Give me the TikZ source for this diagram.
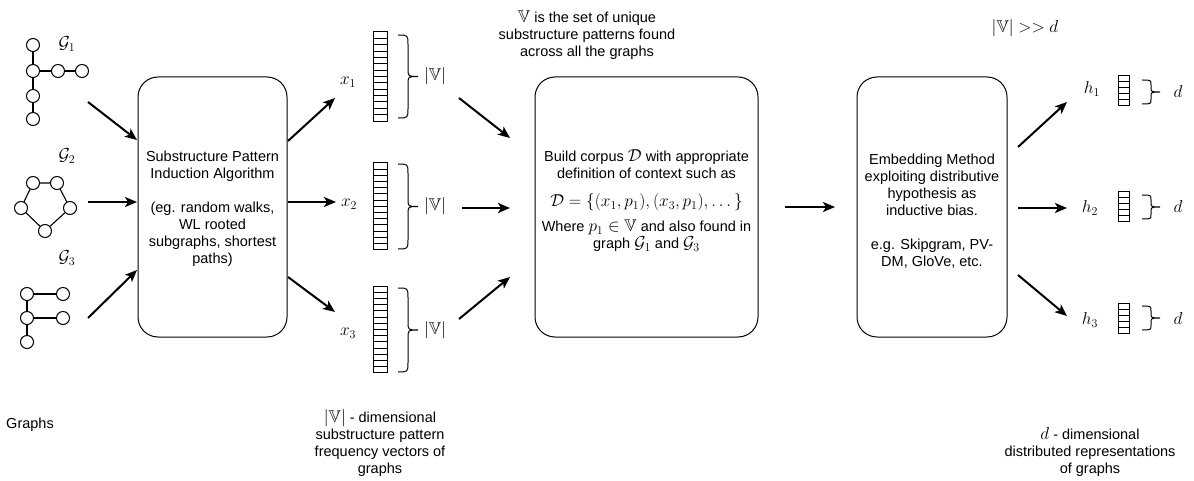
\documentclass[tikz,border=0pt]{standalone}
\usepackage{amsmath,amssymb}
\usepackage[no-math]{fontspec}
\setmainfont{Liberation Sans}
\usetikzlibrary{arrows.meta}
\newcommand\mybrace[3]{% x0, ytop, ybottom
  \draw[bracestyle] (#1,#2) .. controls ({#1+10},#2) .. ({#1+10},{#2+10})
    -- ({#1+10},{(#2+#3)/2-8}) .. controls ({#1+10},{(#2+#3)/2}) .. ({#1+20},{(#2+#3)/2})
    .. controls ({#1+10},{(#2+#3)/2}) .. ({#1+10},{(#2+#3)/2+8})
    -- ({#1+10},{#3-10}) .. controls ({#1+10},#3) .. (#1,#3);}
\newcommand\mysmallbrace[3]{% x0, ytop, ybottom
  \draw[bracestyle] (#1,#2) .. controls ({#1+9},#2) .. ({#1+9},{#2+5})
    -- ({#1+9},{(#2+#3)/2-5}) .. controls ({#1+9},{(#2+#3)/2}) .. ({#1+18},{(#2+#3)/2})
    .. controls ({#1+9},{(#2+#3)/2}) .. ({#1+9},{(#2+#3)/2+5})
    -- ({#1+9},{#3-5}) .. controls ({#1+9},#3) .. (#1,#3);}
\newcommand\myvec[5]{% xleft, ytop, width, n, cellh
  \foreach \i in {1,...,#4} {\draw[vecline] (#1,{#2+(\i-1)*#5}) rectangle ++(#3,#5);}}
\newcommand\M[1]{{\fontsize{17}{17}\selectfont$#1$}}
\begin{document}
\begin{tikzpicture}[x=1pt,y=-1pt,
  every node/.style={font=\fontsize{14.5}{17}\selectfont, inner sep=0pt},
  mathlbl/.style={font=\fontsize{17}{20}\selectfont},
  gnode/.style={circle, draw, fill=white, line width=1pt, minimum size=13pt},
  gedge/.style={line width=1.1pt},
  box/.style={draw, line width=1pt, rounded corners=20pt},
  txt/.style={align=center},
  arr/.style={line width=2pt, -{Stealth[length=12pt,width=10pt,inset=3pt]}},
  vecline/.style={line width=1pt},
  bracestyle/.style={line width=1pt}]
\useasboundingbox (0,0) rectangle (1194,481);

% ---- Graph 1
\node[mathlbl] (lg1) at (67,44) {$\mathcal{G}_1$};
\node[gnode] (g1a) at (33,45) {};
\node[gnode] (g1b) at (33,71) {};
\node[gnode] (g1c) at (58,71) {};
\node[gnode] (g1d) at (82,71) {};
\node[gnode] (g1e) at (33,96) {};
\node[gnode] (g1f) at (33,119) {};
\draw[gedge] (g1a) -- (g1b) (g1b) -- (g1c) (g1c) -- (g1d) (g1b) -- (g1e) (g1e) -- (g1f);

% ---- Graph 2
\node[mathlbl] (lg2) at (67,156) {$\mathcal{G}_2$};
\node[gnode] (g2a) at (33,183) {};
\node[gnode] (g2b) at (57,183) {};
\node[gnode] (g2c) at (70,208) {};
\node[gnode] (g2d) at (45,231) {};
\node[gnode] (g2e) at (21,208) {};
\draw[gedge] (g2a) -- (g2b) (g2b) -- (g2c) (g2c) -- (g2d) (g2d) -- (g2e) (g2e) -- (g2a);

% ---- Graph 3
\node[mathlbl] (lg3) at (67,258) {$\mathcal{G}_3$};
\node[gnode] (g3a) at (27,294) {};
\node[gnode] (g3b) at (63,294) {};
\node[gnode] (g3c) at (27,318) {};
\node[gnode] (g3d) at (63,318) {};
\node[gnode] (g3e) at (27,342) {};
\draw[gedge] (g3a) -- (g3b) (g3c) -- (g3d) (g3a) -- (g3c) (g3c) -- (g3e);

\node (graphs) at (30,425) {Graphs};

% ---- Box 1
\node[box, minimum width=149pt, minimum height=260pt] (box1) at (212.5,207) {};
\node[txt] (t1) at (212.5,209) {Substructure Pattern\\Induction Algorithm\\[17pt](eg. random walks,\\WL rooted\\subgraphs, shortest\\paths)};

% ---- Box 2
\node[box, minimum width=223pt, minimum height=260pt] (box2) at (646.5,207) {};
\node[txt] (t2) at (646.5,201) {Build corpus \M{\mathcal{D}} with appropriate\\definition of context such as\\[11pt]
 \M{\mathcal{D}=\{(x_1,p_1),(x_3,p_1),\dots\}}\\[8pt]
 Where \M{p_1\in\mathbb{V}} and also found in\\graph \M{\mathcal{G}_1} and \M{\mathcal{G}_3}};

% ---- Box 3
\node[box, minimum width=150pt, minimum height=260pt] (box3) at (932,207) {};
\node[txt] (t3) at (932,211) {Embedding Method\\exploiting distributive\\hypothesis as\\inductive bias.\\[17pt]e.g. Skipgram, PV-\\DM, GloVe, etc.};

% ---- top texts
\node[txt] (topv) at (587,35) {\M{\mathbb{V}} is the set of unique\\substructure patterns found\\across all the graphs};
\node[mathlbl] (vd) at (1025,28) {$|\mathbb{V}|>>d$};

% ---- x vectors
\myvec{373}{32}{14}{14}{6.36}
\myvec{373}{163}{14}{14}{6.2}
\myvec{373}{286}{14}{14}{6.2}
\node[mathlbl] (x1) at (348,82) {$x_1$};
\node[mathlbl] (x2) at (349,204) {$x_2$};
\node[mathlbl] (x3) at (348,333) {$x_3$};
\mybrace{398}{35}{118}
\mybrace{398}{164}{249}
\mybrace{398}{288}{372}
\node[mathlbl] (v1) at (435,76) {$|\mathbb{V}|$};
\node[mathlbl] (v2) at (435,206) {$|\mathbb{V}|$};
\node[mathlbl] (v3) at (435,330) {$|\mathbb{V}|$};

% ---- h vectors
\myvec{1118}{76}{11}{5}{6}
\myvec{1118}{192}{11}{5}{6}
\myvec{1118}{303}{11}{5}{6}
\node[mathlbl] (h1) at (1092,89) {$h_1$};
\node[mathlbl] (h2) at (1090,208) {$h_2$};
\node[mathlbl] (h3) at (1090,320) {$h_3$};
\mysmallbrace{1142}{80}{104}
\mysmallbrace{1142}{195}{219}
\mysmallbrace{1142}{306}{330}
\node[mathlbl] (d1) at (1178,92) {$d$};
\node[mathlbl] (d2) at (1178,207) {$d$};
\node[mathlbl] (d3) at (1178,318) {$d$};

% ---- bottom labels
\node[txt] (bl) at (380,443) {\M{|\mathbb{V}|} - dimensional\\substructure pattern\\frequency vectors of\\graphs};
\node[txt] (br) at (1090,452) {\M{d} - dimensional\\distributed representations\\of graphs};

% ---- arrow coordinates
\coordinate (a1s) at (88,102);  \coordinate (a1e) at (137,140);
\coordinate (a2s) at (88,202);  \coordinate (a2e) at (137,202);
\coordinate (a3s) at (88,318);  \coordinate (a3e) at (137,270);
\coordinate (b1s) at (288,141); \coordinate (b1e) at (335,98);
\coordinate (b2s) at (288,202); \coordinate (b2e) at (336,202);
\coordinate (b3s) at (288,277); \coordinate (b3e) at (335,312);
\coordinate (c1s) at (459,98);  \coordinate (c1e) at (510,138);
\coordinate (c2s) at (462,208); \coordinate (c2e) at (510,208);
\coordinate (c3s) at (459,319); \coordinate (c3e) at (510,277);
\coordinate (ds)  at (785,207); \coordinate (de)  at (835,207);
\coordinate (e1s) at (1018,147);\coordinate (e1e) at (1067,102);
\coordinate (e2s) at (1018,208);\coordinate (e2e) at (1067,208);
\coordinate (e3s) at (1018,275);\coordinate (e3e) at (1067,316);
\foreach \p in {a1,a2,a3,b1,b2,b3,c1,c2,c3,d,e1,e2,e3} {\draw[arr] (\p s) -- (\p e);}
\end{tikzpicture}
\end{document}
